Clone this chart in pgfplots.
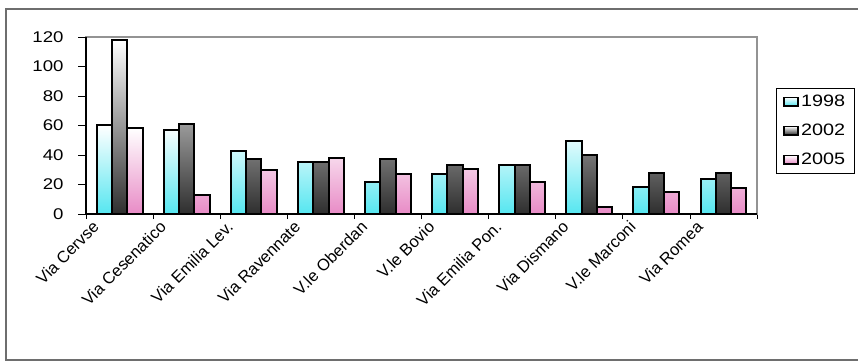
\documentclass[border=0pt]{standalone}
\usepackage{pgfplots}
\pgfplotsset{compat=1.18}
\usepackage{fontspec}
\setmainfont{Liberation Sans}[FakeStretch=1.2]
\newfontfamily\labelfont{Liberation Sans}

\definecolor{cyanbar}{HTML}{55E6F0}
\definecolor{pinkbar}{HTML}{E88BC6}
\definecolor{darkbar}{HTML}{2E2E2E}
\definecolor{framegray}{HTML}{6E6E6E}

\pgfplotsset{
  mylegend/.style={legend image code/.code={\draw[##1,/tikz/.cd,line width=1.8pt,draw=black] (0pt,-4pt) rectangle (14pt,4.5pt);}}
}

\begin{document}
\begin{tikzpicture}[x=1pt,y=1pt]
\path[use as bounding box] (0,0) rectangle (858,361);
\draw[framegray, line width=1.5pt] (6,1) rectangle (900,352);
\begin{axis}[
  at={(86pt,147pt)}, anchor=south west,
  scale only axis, width=671pt, height=177pt,
  xmin=-0.5, xmax=9.5, ymin=0, ymax=120,
  clip=false,
  ybar=0pt, bar width=15.3pt,
  ytick={0,20,40,60,80,100,120},
  xtick={0,...,9},
  xticklabels={Via Cervse, Via Cesenatico, Via Emilia Lev., Via Ravennate, V.le Oberdan, V.le Bovio, Via Emilia Pon., Via Dismano, V.le Marconi, Via Romea},
  minor xtick={-0.5,0.5,...,9.5},
  tick pos=left, tick align=outside,
  every major x tick/.append style={draw=none},
  every minor x tick/.append style={black, line width=0.8pt},
  every major y tick/.append style={black, line width=0.8pt},
  minor tick length=5pt, major tick length=8pt,
  axis line style={draw=gray!85, line width=1.2pt},
  /pgf/number format/assume math mode=true,
  yticklabel style={font=\fontsize{15.5}{18}\selectfont, anchor=east, xshift=-11pt},
  xticklabel style={font=\labelfont\fontsize{16.5}{18}\selectfont, xshift=-28pt, yshift=8pt, rotate=45, anchor=north east, inner sep=4pt},
  legend style={at={(1,1)}, anchor=north west, xshift=19pt, yshift=-51pt,
    draw=black, line width=0.8pt, font=\fontsize{16.5}{19}\selectfont,
    inner xsep=7pt, inner ysep=5pt, row sep=12pt,
    /tikz/every even column/.append style={column sep=5pt}},
  legend cell align=left,
]
\addplot[mylegend, draw=black, line width=2pt, bottom color=cyanbar, top color=white] coordinates {
(0,60) (1,57) (2,43) (3,35) (4,22) (5,27) (6,33) (7,49.5) (8,18) (9,24)};
\addplot[mylegend, draw=black, line width=2pt, bottom color=darkbar, top color=white] coordinates {
(0,118) (1,61) (2,37) (3,35) (4,37) (5,33) (6,33) (7,40) (8,28) (9,28)};
\addplot[mylegend, draw=black, line width=2pt, bottom color=pinkbar, top color=white] coordinates {
(0,58) (1,13) (2,30) (3,38) (4,27) (5,30.5) (6,22) (7,4.5) (8,15) (9,17.5)};
\legend{1998,2002,2005}
\draw[black, line width=1.2pt] (rel axis cs:0,1) -- (rel axis cs:0,0) -- (rel axis cs:1,0);
\end{axis}
\end{tikzpicture}
\end{document}
